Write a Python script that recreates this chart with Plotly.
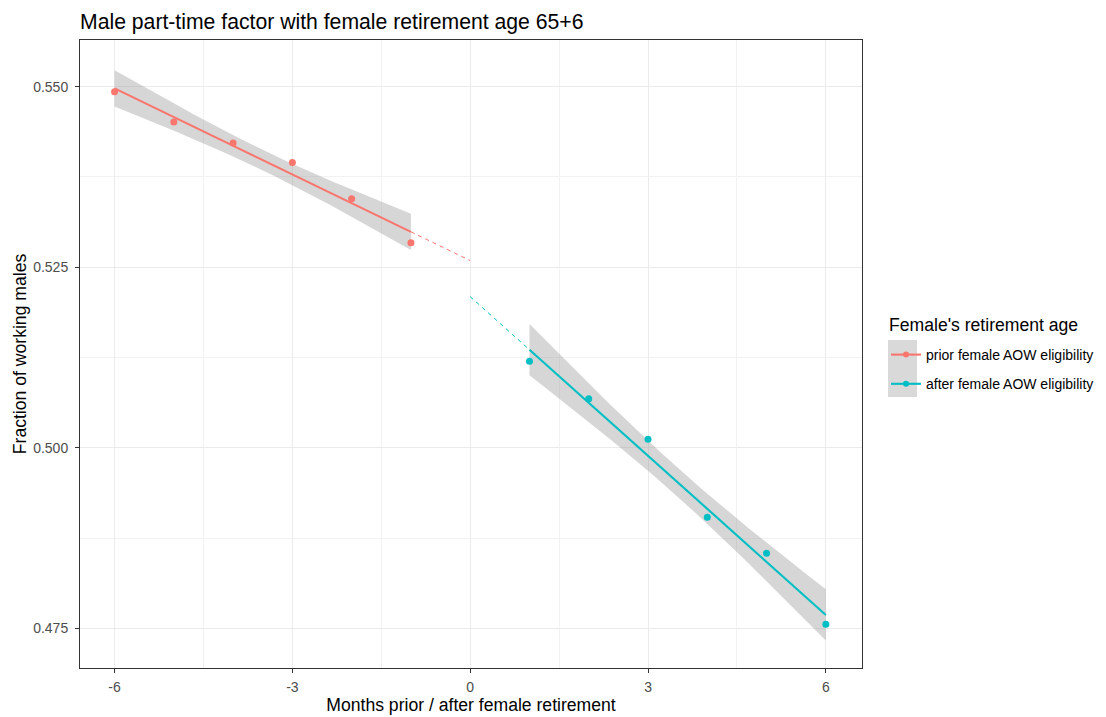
import numpy as np
import plotly.graph_objects as go

# Monthly observations, split at the female retirement date
months_prior = [-6, -5, -4, -3, -2, -1]
frac_prior = [0.5493, 0.5451, 0.5422, 0.5395, 0.5345, 0.5284]
months_after = [1, 2, 3, 4, 5, 6]
frac_after = [0.5120, 0.5068, 0.5012, 0.4904, 0.4854, 0.4756]

series_names = ["prior female AOW eligibility", "after female AOW eligibility"]
series_colors = ["#F8766D", "#00BFC4"]

x_ticks = [-6, -3, 0, 3, 6]
y_ticks = [0.475, 0.500, 0.525, 0.550]

T_975_DF4 = 2.776  # Student t quantile, 95% band, n - 2 = 4 degrees of freedom

FONT = "Liberation Sans, Arial, sans-serif"


def linear_fit(x, y, grid):
    """OLS line with 95% confidence band evaluated on grid."""
    x = np.asarray(x, float)
    y = np.asarray(y, float)
    slope, intercept = np.polyfit(x, y, 1)
    resid = y - (slope * x + intercept)
    sigma = np.sqrt(np.sum(resid ** 2) / (len(x) - 2))
    sxx = np.sum((x - x.mean()) ** 2)
    fit = slope * grid + intercept
    se = sigma * np.sqrt(1 / len(x) + (grid - x.mean()) ** 2 / sxx)
    return fit, fit - T_975_DF4 * se, fit + T_975_DF4 * se


fig = go.Figure()

groups = [
    (months_prior, frac_prior, (-1, 0)),
    (months_after, frac_after, (0, 1)),
]

for i, (mx, fy, ext) in enumerate(groups):
    color = series_colors[i]
    grid = np.linspace(min(mx), max(mx), 80)
    fit, lo, hi = linear_fit(mx, fy, grid)

    # confidence ribbon
    fig.add_trace(go.Scatter(
        x=np.concatenate([grid, grid[::-1]]),
        y=np.concatenate([hi, lo[::-1]]),
        fill="toself", fillcolor="rgba(153,153,153,0.4)",
        line=dict(width=0), mode="lines", hoverinfo="skip", showlegend=False,
    ))
    # fitted line
    fig.add_trace(go.Scatter(
        x=grid, y=fit, mode="lines", line=dict(color=color, width=2.1),
        showlegend=False, hoverinfo="skip",
    ))
    # dashed extrapolation towards the cutoff
    ext_grid = np.linspace(ext[0], ext[1], 20)
    ext_fit, _, _ = linear_fit(mx, fy, ext_grid)
    fig.add_trace(go.Scatter(
        x=ext_grid, y=ext_fit, mode="lines",
        line=dict(color=color, width=1, dash="4px,4px"),
        showlegend=False, hoverinfo="skip",
    ))
    # observed points
    fig.add_trace(go.Scatter(
        x=mx, y=fy, mode="markers", marker=dict(color=color, size=7),
        showlegend=False,
    ))
    # legend key
    fig.add_trace(go.Scatter(
        x=[None], y=[None], mode="lines+markers", name=series_names[i],
        line=dict(color=color, width=2.1), marker=dict(color=color, size=6),
        legendgroup=series_names[i],
    ))

W, H = 1106, 717
PW, PH = 782, 628
L, T = 80, 40


def px_x(p):
    return (p - L) / PW


def px_y(p):
    return (T + PH - p) / PH


# grey key background behind the legend symbols
fig.add_shape(type="rect", xref="paper", yref="paper",
              x0=px_x(888), x1=px_x(917), y0=px_y(397), y1=px_y(340),
              fillcolor="#D9D9D9", line=dict(width=0), layer="below")

# legend heading
fig.add_annotation(text="Female's retirement age", xref="paper", yref="paper",
                   x=px_x(887), xanchor="left", y=px_y(325), yanchor="middle",
                   showarrow=False, font=dict(family=FONT, size=17.6, color="black"))

axis_common = dict(
    showgrid=True, gridcolor="#EBEBEB", gridwidth=1,
    zeroline=False, showline=True, linecolor="#333333", linewidth=1, mirror=True,
    ticks="outside", ticklen=4, tickcolor="#333333", tickwidth=1,
    tickfont=dict(family=FONT, size=14, color="#4D4D4D"),
    automargin=False,
)

fig.update_layout(
    template="none",
    width=W, height=H,
    margin=dict(l=L, r=W - L - PW, t=T, b=H - T - PH, pad=0),
    paper_bgcolor="white", plot_bgcolor="white",
    font=dict(family=FONT, color="black"),
    title=dict(text="Male part-time factor with female retirement age 65+6",
               x=L / W, xanchor="left", y=1 - 22 / H, yanchor="middle",
               font=dict(size=21.2, color="black")),
    xaxis=dict(
        range=[-6.583, 6.61], tickvals=x_ticks, ticktext=[str(v) for v in x_ticks],
        minor=dict(tickvals=[-4.5, -1.5, 1.5, 4.5], showgrid=True,
                   gridcolor="#F2F2F2", gridwidth=0.6, ticks=""),
        title=dict(text="Months prior / after female retirement",
                   font=dict(size=17.6, color="black"), standoff=4),
        ticklabelstandoff=2,
        **axis_common,
    ),
    yaxis=dict(
        range=[0.46953, 0.55646], tickvals=y_ticks,
        ticktext=[f"{v:.3f}" for v in y_ticks],
        minor=dict(tickvals=[0.4875, 0.5125, 0.5375], showgrid=True,
                   gridcolor="#F2F2F2", gridwidth=0.6, ticks=""),
        title=dict(text="Fraction of working males",
                   font=dict(size=17.6, color="black"), standoff=1),
        ticklabelstandoff=4,
        **axis_common,
    ),
    legend=dict(
        xref="container", yref="container",
        x=886 / W, xanchor="left", y=1 - 339 / H, yanchor="top",
        bgcolor="rgba(0,0,0,0)",
        font=dict(size=14, color="black"),
        tracegroupgap=8, itemwidth=30,
    ),
    showlegend=True,
)

fig.write_html("out.html")
